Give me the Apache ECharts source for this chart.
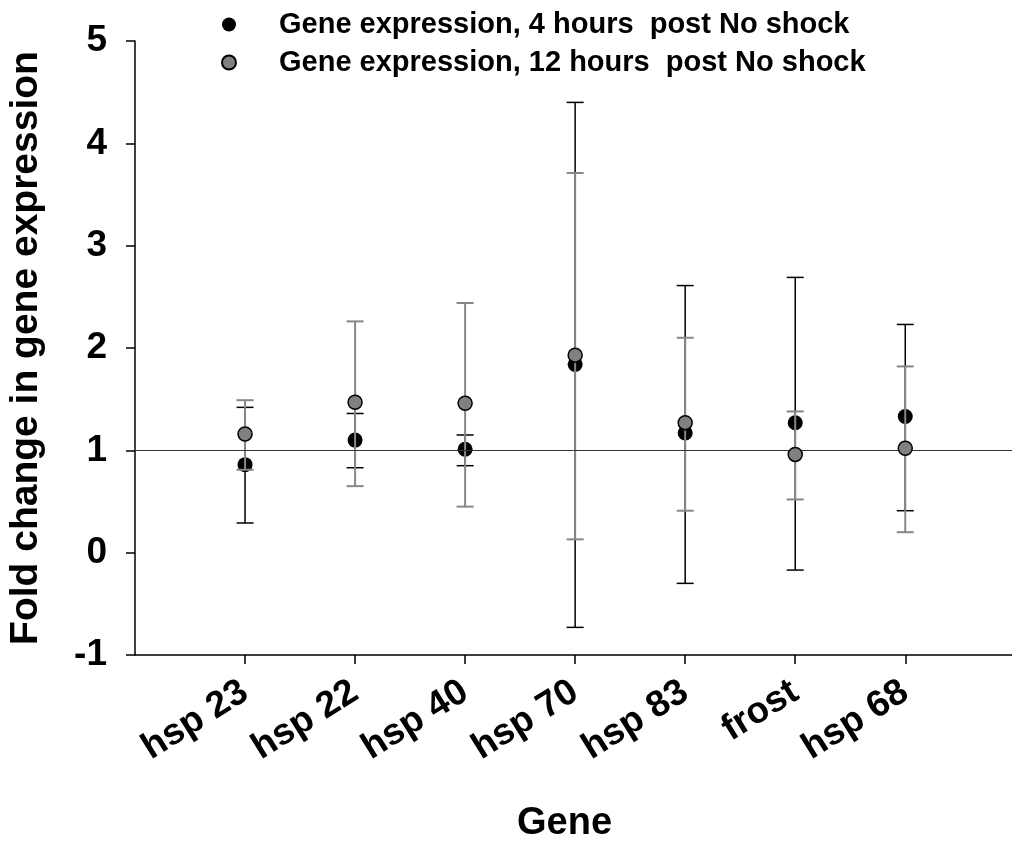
<!DOCTYPE html>
<html>
<head>
<meta charset="utf-8">
<script src="https://cdn.jsdelivr.net/npm/echarts@6/dist/echarts.min.js"></script>
<style>
html,body{margin:0;padding:0;background:#fff;}
#chart{width:1012px;height:865px;}
</style>
</head>
<body>
<div id="chart"></div>
<script>
// ---- data ----
var categories = ['hsp 23', 'hsp 22', 'hsp 40', 'hsp 70', 'hsp 83', 'frost', 'hsp 68'];
var seriesNames = ['Gene expression, 4 hours  post No shock', 'Gene expression, 12 hours  post No shock'];
var mean4  = [0.86, 1.10, 1.01, 1.84, 1.17, 1.27, 1.33];
var low4   = [0.29, 0.83, 0.85, -0.73, -0.30, -0.17, 0.41];
var high4  = [1.42, 1.36, 1.15, 4.40, 2.61, 2.69, 2.23];
var mean12 = [1.16, 1.47, 1.46, 1.93, 1.27, 0.96, 1.02];
var low12  = [0.81, 0.65, 0.45, 0.13, 0.41, 0.52, 0.20];
var high12 = [1.49, 2.26, 2.44, 3.71, 2.10, 1.38, 1.82];
var yTicks = [-1, 0, 1, 2, 3, 4, 5];
var referenceLevel = 1;

var FONT = '"Liberation Sans", Arial, Helvetica, sans-serif';
var positions = categories.map(function (c, i) { return i + 1; });

function pts(means) { return means.map(function (v, i) { return [positions[i], v]; }); }
function bars(lo, hi) { return lo.map(function (v, i) { return [positions[i], v, hi[i]]; }); }

function errorRenderer(color, width) {
  return function (params, api) {
    var x = api.value(0);
    var top = api.coord([x, api.value(2)]);
    var bot = api.coord([x, api.value(1)]);
    var hw = 8.5;
    var st = { stroke: color, lineWidth: width };
    return {
      type: 'group',
      children: [
        { type: 'line', shape: { x1: top[0], y1: top[1], x2: bot[0], y2: bot[1] }, style: st },
        { type: 'line', shape: { x1: top[0] - hw, y1: top[1], x2: top[0] + hw, y2: top[1] }, style: st },
        { type: 'line', shape: { x1: bot[0] - hw, y1: bot[1], x2: bot[0] + hw, y2: bot[1] }, style: st }
      ]
    };
  };
}

var chart = echarts.init(document.getElementById('chart'), null, { renderer: 'canvas' });
chart.setOption({
  animation: false,
  backgroundColor: '#fff',
  textStyle: { fontFamily: FONT },
  legend: {
    orient: 'vertical',
    left: 216,
    top: 5,
    padding: 5,
    itemWidth: 14,
    itemHeight: 14,
    itemGap: 9,
    data: [
      { name: seriesNames[0], icon: 'circle' },
      { name: seriesNames[1], icon: 'circle' }
    ],
    textStyle: { fontSize: 29, fontWeight: 'bold', color: '#000', fontFamily: FONT, lineHeight: 28, padding: [0, 0, 0, 38] }
  },
  grid: { left: 135, right: 0, top: 41, bottom: 210, containLabel: false, outerBoundsMode: 'none' },
  xAxis: {
    type: 'value',
    min: 0,
    max: 7.97,
    name: 'Gene',
    nameLocation: 'middle',
    nameGap: 150,
    nameTextStyle: { fontSize: 38, fontWeight: 'bold', color: '#000', fontFamily: FONT, padding: [0, 18, 0, 0] },
    splitLine: { show: false },
    axisLine: { show: true, onZero: false, lineStyle: { color: '#000', width: 1.5 } },
    axisTick: { show: true, inside: false, length: 9, customValues: positions, lineStyle: { color: '#000', width: 1.5 } },
    axisLabel: {
      show: true,
      customValues: positions,
      rotate: 32,
      margin: 34,
      fontSize: 37,
      fontWeight: 'bold',
      color: '#000',
      fontFamily: FONT,
      formatter: function (v) { return categories[Math.round(v) - 1] || ''; }
    }
  },
  yAxis: {
    type: 'value',
    min: -1,
    max: 5,
    interval: 1,
    name: 'Fold change in gene expression',
    nameLocation: 'middle',
    nameRotate: 90,
    nameGap: 89,
    nameTextStyle: { fontSize: 39, fontWeight: 'bold', color: '#000', fontFamily: FONT },
    splitLine: { show: false },
    axisLine: { show: true, onZero: false, lineStyle: { color: '#000', width: 1.5 } },
    axisTick: { show: true, inside: false, length: 9, lineStyle: { color: '#000', width: 1.5 } },
    axisLabel: {
      margin: 28,
      fontSize: 37,
      fontWeight: 'bold',
      color: '#000',
      fontFamily: FONT,
      formatter: function (v) { return yTicks.indexOf(v) >= 0 ? String(v) : ''; }
    }
  },
  series: [
    {
      name: seriesNames[0] + ' error',
      type: 'custom',
      z: 2,
      renderItem: errorRenderer('#000', 1.5),
      encode: { x: 0, y: [1, 2] },
      data: bars(low4, high4),
      markLine: {
        silent: true,
        symbol: ['none', 'none'],
        label: { show: false },
        lineStyle: { color: '#333', width: 1, type: 'solid' },
        data: [{ yAxis: referenceLevel }]
      }
    },
    {
      name: seriesNames[0],
      type: 'scatter',
      z: 3,
      symbol: 'circle',
      symbolSize: 15,
      itemStyle: { color: '#000', opacity: 1 },
      data: pts(mean4)
    },
    {
      name: seriesNames[1] + ' error',
      type: 'custom',
      z: 4,
      renderItem: errorRenderer('#878787', 2),
      encode: { x: 0, y: [1, 2] },
      data: bars(low12, high12)
    },
    {
      name: seriesNames[1],
      type: 'scatter',
      z: 5,
      symbol: 'circle',
      symbolSize: 14,
      itemStyle: { color: '#808080', borderColor: '#000', borderWidth: 1.5, opacity: 1 },
      data: pts(mean12)
    }
  ]
});
</script>
</body>
</html>
